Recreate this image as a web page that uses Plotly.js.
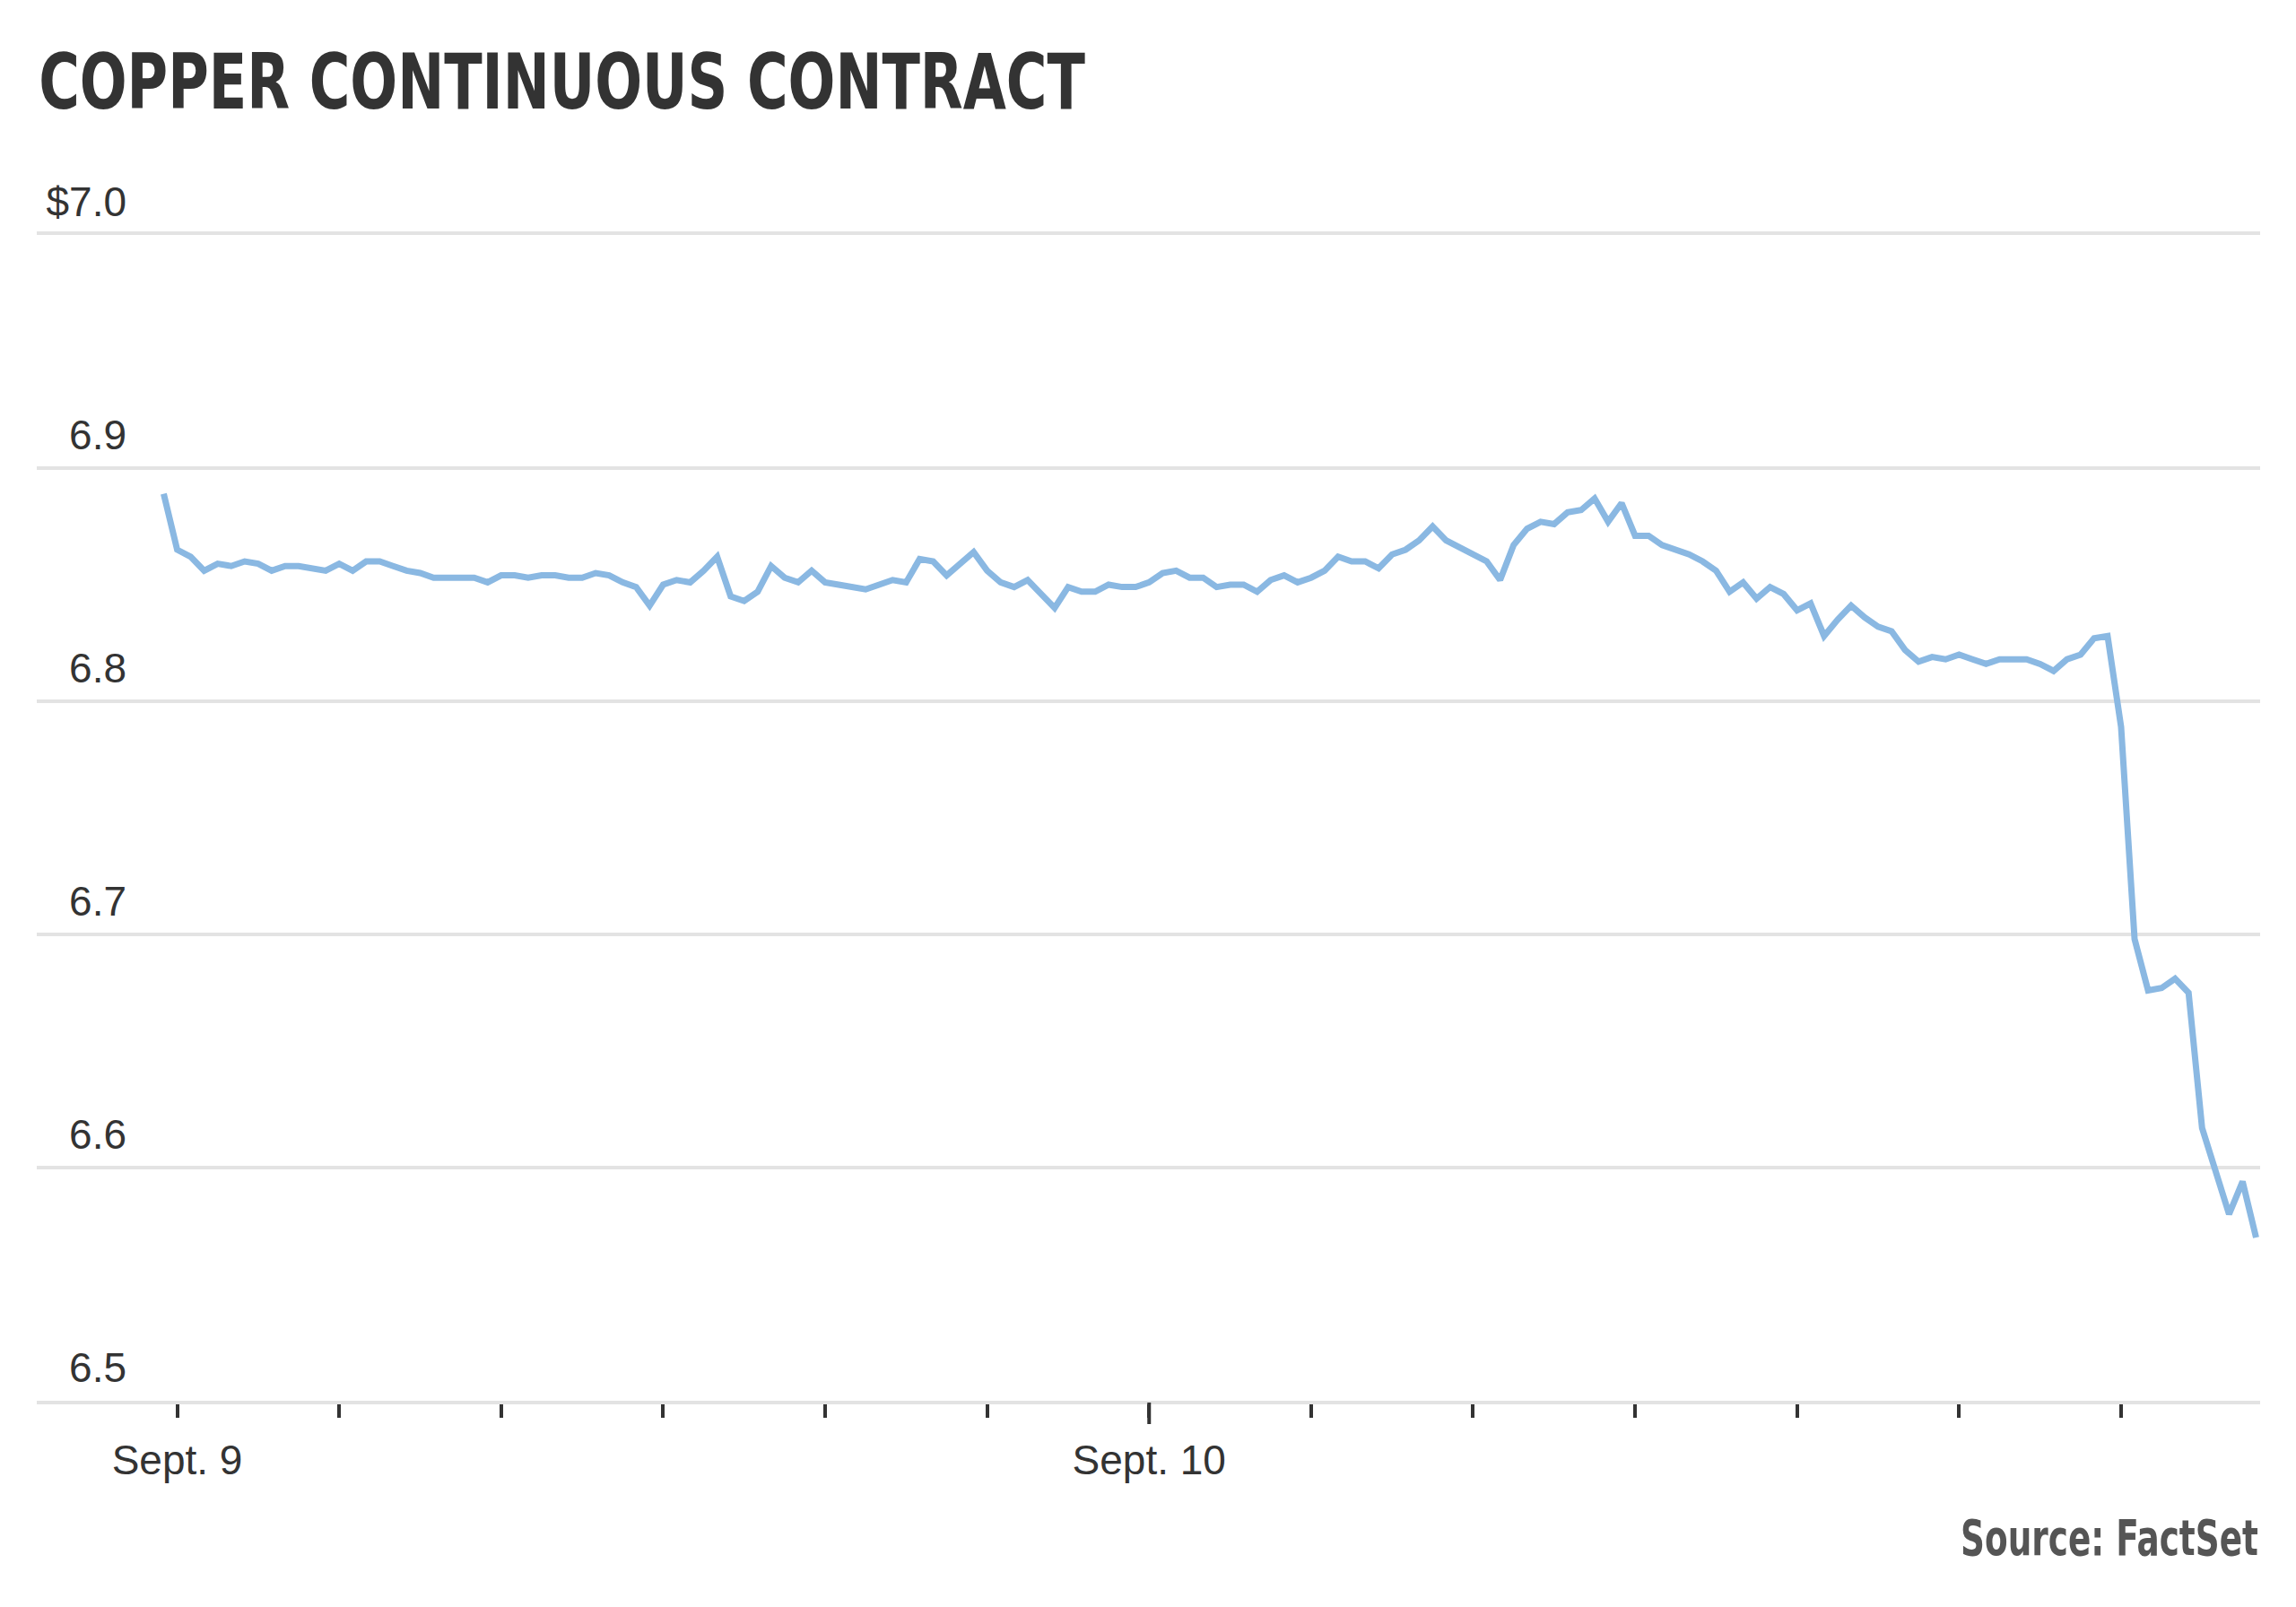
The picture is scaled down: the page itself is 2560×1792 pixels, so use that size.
<!DOCTYPE html>
<html>
<head>
<meta charset="utf-8">
<script src="https://cdn.plot.ly/plotly-3.0.1.min.js"></script>
<style>
  body { margin: 0; background: #fff; }
  #chart { width: 2560px; height: 1792px; }
</style>
</head>
<body>
<div id="chart"></div>
<script>
// copper continuous contract, 20-minute prices starting Sept. 8 23:40
var startTime = '2025-09-08 23:40';
var stepMs = 20 * 60 * 1000;

var prices = [
    6.889, 6.865, 6.862, 6.856, 6.859, 6.858, 6.860, 6.859, 6.856, 6.858,
    6.858, 6.857, 6.856, 6.859, 6.856, 6.860, 6.860, 6.858, 6.856, 6.855,
    6.853, 6.853, 6.853, 6.853, 6.851, 6.854, 6.854, 6.853, 6.854, 6.854,
    6.853, 6.853, 6.855, 6.854, 6.851, 6.849, 6.841, 6.850, 6.852, 6.851,
    6.856, 6.862, 6.845, 6.843, 6.847, 6.858, 6.853, 6.851, 6.856, 6.851,
    6.850, 6.849, 6.848, 6.850, 6.852, 6.851, 6.861, 6.860, 6.854, 6.859,
    6.864, 6.856, 6.851, 6.849, 6.852, 6.846, 6.840, 6.849, 6.847, 6.847,
    6.850, 6.849, 6.849, 6.851, 6.855, 6.856, 6.853, 6.853, 6.849, 6.850,
    6.850, 6.847, 6.852, 6.854, 6.851, 6.853, 6.856, 6.862, 6.860, 6.860,
    6.857, 6.863, 6.865, 6.869, 6.875, 6.869, 6.866, 6.863, 6.860, 6.852,
    6.867, 6.874, 6.877, 6.876, 6.881, 6.882, 6.887, 6.877, 6.885, 6.871,
    6.871, 6.867, 6.865, 6.863, 6.860, 6.856, 6.847, 6.851, 6.844, 6.849,
    6.846, 6.839, 6.842, 6.828, 6.835, 6.841, 6.836, 6.832, 6.830, 6.822,
    6.817, 6.819, 6.818, 6.820, 6.818, 6.816, 6.818, 6.818, 6.818, 6.816,
    6.813, 6.818, 6.820, 6.827, 6.828, 6.789, 6.698, 6.676, 6.677, 6.681,
    6.675, 6.617, 6.598, 6.580, 6.594, 6.570
];

var xTickVals = [
    '2025-09-09 00:00', '2025-09-09 04:00', '2025-09-09 08:00', '2025-09-09 12:00',
    '2025-09-09 16:00', '2025-09-09 20:00', '2025-09-10 00:00', '2025-09-10 04:00',
    '2025-09-10 08:00', '2025-09-10 12:00', '2025-09-10 16:00', '2025-09-10 20:00',
    '2025-09-11 00:00'
];
var xTickText = ['Sept. 9', '', '', '', '', '', 'Sept. 10', '', '', '', '', '', ''];
var dayMark = '2025-09-10 00:00';

var yTickVals = [6.5, 6.6, 6.7, 6.8, 6.9, 7.0];
var yTickText = ['6.5', '6.6', '6.7', '6.8', '6.9', '$7.0'];

var trace = {
    x0: startTime,
    dx: stepMs,
    y: prices,
    type: 'scatter',
    mode: 'lines',
    line: { color: '#8ab8e2', width: 7 },
    hoverinfo: 'skip'
};

var layout = {
    width: 2560,
    height: 1792,
    margin: { l: 41, r: 40, t: 262, b: 230 },
    paper_bgcolor: '#ffffff',
    plot_bgcolor: '#ffffff',
    showlegend: false,
    font: { family: 'Liberation Sans, Arial, sans-serif', color: '#333333', size: 46 },
    xaxis: {
        type: 'date',
        range: ['2025-09-08 20:32', '2025-09-11 03:26'],
        tickmode: 'array',
        tickvals: xTickVals,
        ticktext: xTickText,
        ticks: 'outside',
        ticklen: 15,
        tickwidth: 4,
        tickcolor: '#333333',
        ticklabelstandoff: 8,
        showgrid: false,
        zeroline: false,
        showline: true,
        mirror: true,
        linecolor: '#e3e3e3',
        linewidth: 4,
        tickfont: { size: 46, color: '#333333' }
    },
    yaxis: {
        range: [6.5, 7.0],
        tickmode: 'array',
        tickvals: yTickVals,
        ticktext: yTickText,
        ticks: '',
        showgrid: true,
        gridcolor: '#e3e3e3',
        gridwidth: 4,
        zeroline: false,
        showline: false,
        ticklabelposition: 'outside',
        ticklabelstandoff: -101,
        ticklabelshift: -37,
        tickfont: { size: 46, color: '#333333' }
    },
    shapes: [
        {
            type: 'line',
            xref: 'x',
            x0: dayMark,
            x1: dayMark,
            yref: 'paper',
            ysizemode: 'pixel',
            yanchor: 0,
            y0: -2,
            y1: -26,
            line: { color: '#333333', width: 4 }
        }
    ],
    annotations: [
        {
            text: '<b>COPPER CONTINUOUS CONTRACT</b>',
            xref: 'paper', yref: 'paper',
            x: 0, y: 1,
            xanchor: 'left', yanchor: 'bottom',
            yshift: 119,
            showarrow: false,
            font: { family: 'Liberation Sans Narrow, DejaVu Sans Condensed, sans-serif', size: 85, color: '#333333' }
        },
        {
            text: '<b>Source: FactSet</b>',
            xref: 'paper', yref: 'paper',
            x: 1, y: 0,
            xanchor: 'right', yanchor: 'top',
            yshift: -118,
            showarrow: false,
            font: { family: 'Liberation Sans Narrow, DejaVu Sans Condensed, sans-serif', size: 56, color: '#555555' }
        }
    ]
};

// no narrow grotesque installed, so squeeze the two texts to the widths they have in print
var squeeze = [
    { width: 1167, origin: 'left center' },
    { width: 332, origin: 'right center' }
];

Plotly.newPlot('chart', [trace], layout, { displayModeBar: false }).then(function (gd) {
    var texts = gd.querySelectorAll('.annotation-text');
    texts.forEach(function (t, i) {
        if (!squeeze[i]) return;
        var w = t.getBBox().width;
        if (!w) return;
        t.style.transformBox = 'fill-box';
        t.style.transformOrigin = squeeze[i].origin;
        t.style.transform = 'scaleX(' + Math.min(1, squeeze[i].width / w) + ')';
    });
});
</script>
</body>
</html>
